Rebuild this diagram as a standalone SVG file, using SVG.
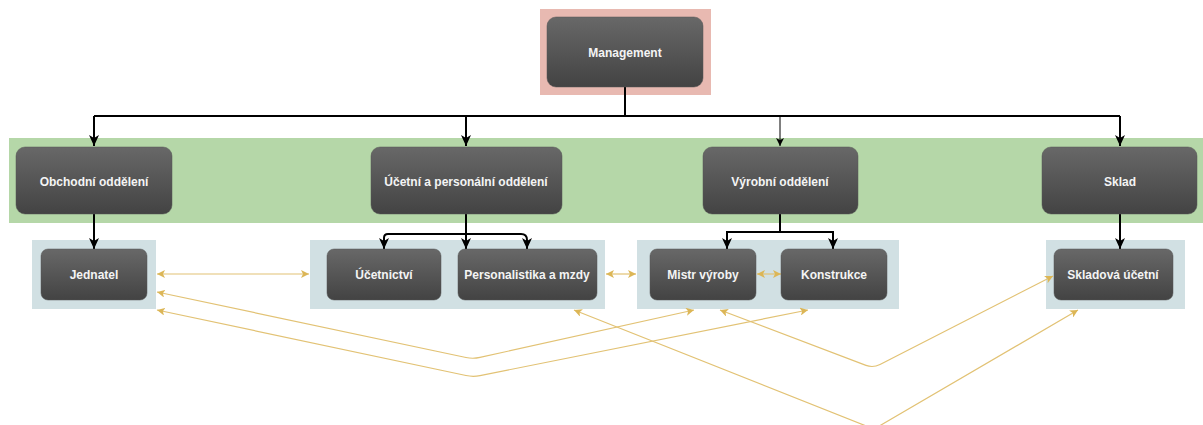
<svg xmlns="http://www.w3.org/2000/svg" width="1203" height="425" viewBox="0 0 1203 425">
<defs>
<linearGradient id="g" x1="0" y1="0" x2="0" y2="1">
<stop offset="0" stop-color="#686868"/>
<stop offset="1" stop-color="#434343"/>
</linearGradient>
<marker id="ab" markerUnits="userSpaceOnUse" markerWidth="12" markerHeight="10" refX="11" refY="5" orient="auto">
<path d="M0,0 L11,5 L0,10 L3,5 z" fill="#000"/>
</marker>
<marker id="abs" markerUnits="userSpaceOnUse" markerWidth="9" markerHeight="8" refX="8" refY="4" orient="auto">
<path d="M0,0 L8,4 L0,8 L2,4 z" fill="#000"/>
</marker>
<marker id="ay" markerUnits="userSpaceOnUse" markerWidth="9" markerHeight="8" refX="8" refY="4" orient="auto-start-reverse">
<path d="M0,0 L8,4 L0,8 L2,4 z" fill="#dcb656"/>
</marker>
</defs>
<style>
.node{fill:url(#g);stroke:#555;stroke-width:0.5}
.lbl{font-family:"Liberation Sans",Arial,sans-serif;font-weight:bold;font-size:12px;fill:#f4f4f4;text-anchor:middle}
.blk{fill:none;stroke:#000;stroke-width:2}
.yl{fill:none;stroke:#e2c274;stroke-width:1.2;marker-start:url(#ay);marker-end:url(#ay)}
</style>
<g id="bands">
<rect x="540" y="9" width="171" height="86" fill="#e8b9b1"/>
<rect x="9" y="138" width="1194" height="85" fill="#b5d7a8"/>
<rect x="32" y="240" width="124" height="69" fill="#d1e0e3"/>
<rect x="310" y="240" width="295" height="69" fill="#d1e0e3"/>
<rect x="637" y="240" width="262" height="69" fill="#d1e0e3"/>
<rect x="1046" y="240" width="139" height="69" fill="#d1e0e3"/>
</g>
<g id="connectors">
<path class="blk" d="M625,87 V116"/>
<path class="blk" d="M94,116 H1120"/>
<path class="blk" d="M94,116 V146" marker-end="url(#ab)"/>
<path class="blk" d="M466,116 V146" marker-end="url(#ab)"/>
<path fill="none" stroke="#000" stroke-width="1" d="M780,116 V146" marker-end="url(#abs)"/>
<path class="blk" d="M1120,116 V146" marker-end="url(#ab)"/>
<path class="blk" d="M94,214 V249" marker-end="url(#ab)"/>
<path class="blk" d="M466,214 V249" marker-end="url(#ab)"/>
<path class="blk" d="M384,249 V238 Q384,234 388,234 H521 Q527,234 527,240 V249" marker-end="url(#ab)"/>
<path class="blk" d="M384,240 V249" marker-end="url(#ab)"/>
<path class="blk" d="M780,214 V232"/>
<path class="blk" d="M727,249 V232 H833 V249" marker-end="url(#ab)"/>
<path class="blk" d="M727,240 V249" marker-end="url(#ab)"/>
<path class="blk" d="M1120,214 V249" marker-end="url(#ab)"/>
<path class="yl" d="M157,274 H309"/>
<path class="yl" d="M606,274 H636"/>
<path class="yl" d="M757,274 H781"/>
<path class="yl" d="M157,292 L466,357.5 Q473,359 480,357.4 L694,310"/>
<path class="yl" d="M157,310 L466,375.5 Q473,377 480,375.6 L808,310"/>
<path class="yl" d="M720,310 L866,365.4 Q873,368 880,364.5 L1053,276"/>
<path class="yl" d="M574,310 L867,426.3 Q874,429 881,425 L1078,310"/>
</g>
<g id="n-management"><rect class="node" x="547" y="17" width="156" height="70" rx="9"/><text class="lbl" x="625" y="57">Management</text></g>
<g id="n-obchodni"><rect class="node" x="16" y="147" width="156" height="67" rx="9"/><text class="lbl" x="94" y="186">Obchodní oddělení</text></g>
<g id="n-ucetni"><rect class="node" x="371" y="147" width="191" height="67" rx="9"/><text class="lbl" x="466" y="186">Účetní a personální oddělení</text></g>
<g id="n-vyrobni"><rect class="node" x="703" y="147" width="155" height="67" rx="9"/><text class="lbl" x="780" y="186">Výrobní oddělení</text></g>
<g id="n-sklad"><rect class="node" x="1042" y="147" width="155" height="67" rx="9"/><text class="lbl" x="1120" y="186">Sklad</text></g>
<g id="n-jednatel"><rect class="node" x="41" y="249" width="106" height="51" rx="7"/><text class="lbl" x="94" y="279">Jednatel</text></g>
<g id="n-ucetnictvi"><rect class="node" x="327" y="249" width="114" height="51" rx="7"/><text class="lbl" x="384" y="279">Účetnictví</text></g>
<g id="n-personalistika"><rect class="node" x="458" y="249" width="139" height="51" rx="7"/><text class="lbl" x="527" y="279">Personalistika a mzdy</text></g>
<g id="n-mistr"><rect class="node" x="650" y="249" width="106" height="51" rx="7"/><text class="lbl" x="703" y="279">Mistr výroby</text></g>
<g id="n-konstrukce"><rect class="node" x="781" y="249" width="106" height="51" rx="7"/><text class="lbl" x="834" y="279">Konstrukce</text></g>
<g id="n-skladova"><rect class="node" x="1054" y="249" width="119" height="51" rx="7"/><text class="lbl" x="1113" y="279">Skladová účetní</text></g>
</svg>
